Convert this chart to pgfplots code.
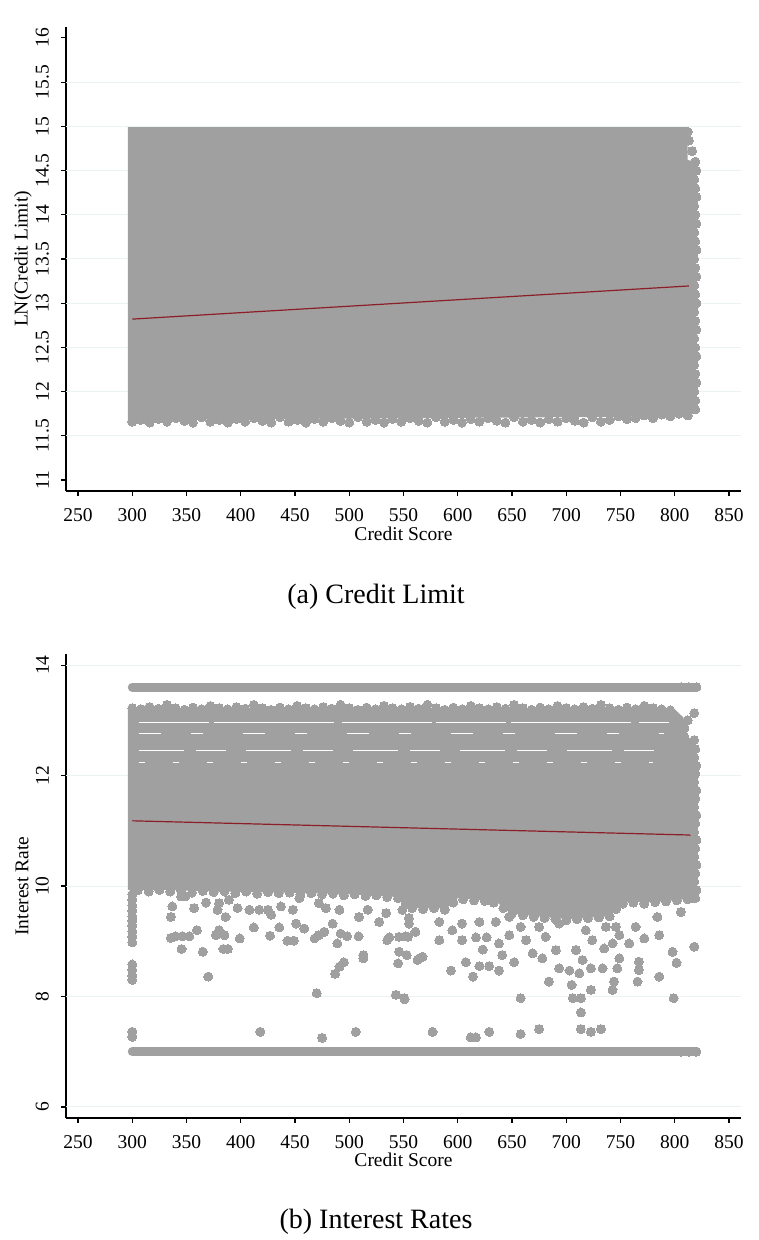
\documentclass[border=0pt]{standalone}
\usepackage{fontspec}
\setmainfont{Liberation Serif}
\usepackage{pgfplots}
\pgfplotsset{compat=1.18}
\definecolor{mg}{RGB}{160,160,160}
\definecolor{gridc}{RGB}{234,242,243}
\definecolor{fitc}{RGB}{140,30,40}
\pgfplotsset{
 stata/.style={
  scale only axis, width=675pt, height=464pt,
  xmin=238.9, xmax=861.1,
  axis x line*=bottom, axis y line*=left,
  axis line style={line width=1.1pt, black, -},
  tick align=outside, major tick length=5pt,
  every tick/.style={black, line width=1.1pt},
  xtick={250,300,350,400,450,500,550,600,650,700,750,800,850},
  ticklabel style={font=\fontsize{19.5}{22}\selectfont},
  label style={font=\fontsize{19.5}{22}\selectfont},
  /pgf/number format/assume math mode=true,
  yticklabel style={rotate=90, anchor=south, inner ysep=12pt},
  xticklabel style={yshift=-9pt},
  extra tick style={major tick length=0pt, grid=major},
  grid style={gridc, line width=1pt},
  xlabel={Credit Score},
 },
 pts/.style={only marks, mg, mark=*, mark size=4.5pt, mark options={solid, fill=mg, draw=mg, line width=0pt}},
 blob/.style={fill=mg, draw=none, mark=none},
}
\begin{document}
\begin{tikzpicture}[x=1pt,y=1pt]
\useasboundingbox (0,0) rectangle (759,1240);
% ---------------- (a) Credit Limit ----------------
\begin{axis}[stata, at={(66pt,749pt)}, anchor=south west,
  ymin=10.876, ymax=16.124,
  ytick={11,11.5,12,12.5,13,13.5,14,14.5,15,15.5,16},
  extra y ticks={11.5,12,12.5,13,13.5,14,14.5,15,15.5}, extra y tick labels={},
  ylabel={LN(Credit Limit)},
  ylabel style={at={(axis description cs:-0.0637,0.5)}, anchor=center},
  xlabel style={at={(axis description cs:0.5,-0.0927)}, anchor=center}]
\addplot[blob] coordinates {(296,11.64) (296,14.99) (812,14.99) (812,14.62) (819,14.60) (819,11.76) (810,11.72) (300,11.68)};
\addplot[pts] coordinates {
(300,11.66)(308,11.68)(316,11.65)(324,11.69)(332,11.66)(340,11.70)(348,11.67)(356,11.65)(364,11.71)(372,11.66)
(380,11.68)(388,11.65)(396,11.69)(404,11.66)(412,11.70)(420,11.67)(428,11.65)(436,11.71)(444,11.66)(452,11.68)
(460,11.65)(468,11.69)(476,11.66)(484,11.70)(492,11.67)(500,11.65)(508,11.71)(516,11.66)(524,11.68)(532,11.65)
(540,11.69)(548,11.66)(556,11.70)(564,11.67)(572,11.65)(580,11.71)(588,11.66)(596,11.68)(604,11.65)(612,11.69)
(620,11.66)(628,11.70)(636,11.67)(644,11.65)(652,11.71)(660,11.66)(668,11.68)(676,11.65)(684,11.69)(692,11.66)
(700,11.70)(708,11.67)(716,11.65)(724,11.71)(732,11.66)(740,11.68)(748,11.72)(756,11.69)(764,11.70)(772,11.73)
(780,11.70)(788,11.74)(796,11.72)(804,11.75)(812,11.73)(819,11.80)
(819,11.90)(818,12.00)(820,12.10)(819,12.20)(818,12.30)(820,12.40)(819,12.50)(818,12.60)(820,12.70)(819,12.80)
(818,12.90)(820,13.00)(819,13.10)(818,13.20)(820,13.30)(819,13.40)(818,13.50)(820,13.60)(819,13.70)(818,13.80)
(820,13.90)(819,14.00)(818,14.10)(820,14.20)(819,14.30)(818,14.40)(820,14.50)(819,14.60)
(816,14.72)(813,14.84)(812,14.94)(806,14.94)
};
\addplot[fitc, line width=1.2pt, mark=none] coordinates {(300,12.82) (820,13.20)};
\end{axis}
\node[font=\fontsize{28}{32}\selectfont] at (376,643) {(a) Credit Limit};
% ---------------- (b) Interest Rates ----------------
\begin{axis}[stata, at={(66pt,122pt)}, anchor=south west,
  ymin=5.8, ymax=14.2,
  ytick={6,8,10,12,14},
  extra y ticks={6,8,10,12,14}, extra y tick labels={},
  ylabel={Interest Rate},
  ylabel style={at={(axis description cs:-0.0652,0.5)}, anchor=center},
  xlabel style={at={(axis description cs:0.5,-0.0905)}, anchor=center}]
% bands
\addplot[mg, line width=9pt, line cap=round, mark=none] coordinates {(300,13.6) (820,13.6)};
\addplot[mg, line width=9pt, line cap=round, mark=none] coordinates {(300,7.0) (820,7.0)};
% dense region
\addplot[blob] coordinates {(296,9.93) (296,13.2) (800,13.2) (808,13.05) (812,12.7) (819,12.6) (819,9.78)
 (790,9.72) (750,9.70) (740,9.45) (700,9.40) (650,9.50) (635,9.72) (600,9.78) (590,9.60) (560,9.60)
 (545,9.80) (500,9.85) (440,9.88) (380,9.90) (330,9.93)};
% white gaps in dense region
\addplot[white, line width=0.8pt, mark=none, dash pattern=on 70pt off 5pt on 120pt off 8pt on 90pt off 4pt] coordinates {(306,12.97) (795,12.97)};
\addplot[white, line width=0.8pt, mark=none, dash pattern=on 22pt off 30pt on 12pt off 40pt] coordinates {(306,12.77) (790,12.77)};
\addplot[white, line width=0.8pt, mark=none, dash pattern=on 45pt off 12pt on 30pt off 20pt] coordinates {(306,12.46) (790,12.46)};
\addplot[white, line width=0.8pt, mark=none, dash pattern=on 6pt off 28pt] coordinates {(306,12.24) (780,12.24)};
% edge and scattered points
\addplot[pts] coordinates {
(300,13.22)(308,13.20)(316,13.24)(324,13.21)(332,13.28)(340,13.22)(348,13.19)(356,13.23)(364,13.20)(372,13.26)
(380,13.22)(388,13.20)(396,13.24)(404,13.21)(412,13.28)(420,13.22)(428,13.19)(436,13.23)(444,13.20)(452,13.26)
(460,13.22)(468,13.20)(476,13.24)(484,13.21)(492,13.28)(500,13.22)(508,13.19)(516,13.23)(524,13.20)(532,13.26)
(540,13.22)(548,13.20)(556,13.24)(564,13.21)(572,13.28)(580,13.22)(588,13.19)(596,13.23)(604,13.20)(612,13.26)
(620,13.22)(628,13.20)(636,13.24)(644,13.21)(652,13.28)(660,13.22)(668,13.19)(676,13.23)(684,13.20)(692,13.26)
(700,13.22)(708,13.20)(716,13.24)(724,13.21)(732,13.28)(740,13.22)(748,13.19)(756,13.23)(764,13.20)(772,13.26)
(780,13.22)(788,13.20)(796,13.18)
(818,13.13)(809,12.86)(809,12.70)(812,13.00)(818,12.64)
(819,12.48)(818,12.33)(820,12.18)(819,12.03)(818,11.88)(820,11.73)(819,11.58)(818,11.43)(820,11.28)(819,11.13)
(818,10.98)(820,10.83)(819,10.68)(818,10.53)(820,10.38)(819,10.23)(818,10.08)(820,9.93)
(806,13.6)(813,13.6)(820,13.6)(806,7.0)(813,7.0)(820,7.0)
(305,9.92)(315,9.90)(325,9.93)(335,9.90)(345,9.92)(355,9.88)(365,9.91)(375,9.89)(385,9.90)(395,9.87)
(405,9.90)(415,9.86)(425,9.89)(435,9.87)(445,9.88)(455,9.84)(465,9.87)(475,9.85)(485,9.86)(495,9.83)
(505,9.85)(515,9.82)(525,9.83)(535,9.80)(545,9.78)(552,9.68)(558,9.60)(568,9.58)(578,9.60)(588,9.57)
(596,9.70)(605,9.76)(615,9.74)(625,9.73)(633,9.70)(642,9.60)(650,9.50)(660,9.47)(670,9.44)(680,9.42)
(690,9.40)(700,9.38)(710,9.40)(720,9.42)(730,9.43)(740,9.45)(746,9.58)(752,9.68)(762,9.70)(772,9.68)
(782,9.71)(792,9.72)(802,9.74)(812,9.76)(819,9.78)
(300,9.85)(300,9.75)(300,9.65)(300,9.55)(300,9.45)(300,9.37)(300,9.28)(300,9.18)(300,9.08)(300,8.98)
(300,8.58)(300,8.48)(300,8.38)(300,8.30)(300,7.36)(300,7.27)
(335.6,9.44)(337,9.63)(345,9.81)(349,9.81)(357,9.60)(368,9.70)(378.6,9.57)(386,9.44)(380,9.69)(389,9.75)
(397,9.60)(408,9.57)(417,9.57)(425,9.57)(428,9.48)(437,9.63)(448,9.57)(454,9.78)(465,9.87)(472,9.69)
(478.5,9.60)(484.6,9.32)(491,9.57)(509,9.44)(517,9.57)(527.6,9.35)(534,9.51)(549,9.57)(555,9.42)
(335.6,9.06)(340,9.09)(346,9.09)(352.5,9.09)(359.6,9.20)(377,9.11)(380,9.20)(385,9.11)(399,9.05)(412,9.25)
(427,9.10)(435.5,9.25)(443,9.01)(449,9.01)(451,9.32)(458.5,9.23)(468,9.05)(472,9.11)(477,9.17)(489,8.96)
(492,9.14)(498,9.09)(508.6,9.09)(535,9.02)(537,9.07)(546,9.08)(554,9.08)(561,9.17)
(345.5,8.86)(365,8.81)(384,8.86)(388,8.86)(370,8.36)(487,8.41)(491,8.54)(495,8.62)(513,8.75)(513,8.69)
(545,8.60)(546,8.81)(553,8.75)(563,8.66)(470,8.06)(543,8.03)(551,7.95)(418,7.36)(475,7.25)(506,7.36)
(550.7,7.97)(576.8,7.36)(612,7.26)(616.8,7.26)(629,7.36)(658,7.97)(658,7.32)(675,7.41)(713.5,7.41)(722.7,7.36)
(732,7.41)(713.5,7.71)(706,7.97)(713.5,7.97)(799,7.97)
(593.7,8.47)(607.5,8.62)(614,8.36)(620,8.55)(629,8.55)(638,8.47)(652,8.62)(684,8.27)(693.5,8.51)(703,8.47)
(705,8.21)(712,8.42)(722.7,8.12)(722.7,8.51)(733.5,8.51)(742.7,8.12)(744,8.27)(747,8.51)(749,8.69)(765.7,8.27)
(767,8.48)(767,8.63)(785.7,8.36)(801.7,8.61)(798,8.81)(818,8.90)
(552,9.09)(564.5,8.69)(567.6,8.72)(583,9.02)(604,9.02)(616.8,9.07)(623,8.85)(626.6,9.07)(638,8.96)(641,8.75)
(647.5,9.11)(658,9.26)(663,9.02)(669,8.78)(678,8.69)(681,9.08)(690.5,8.84)(709,8.84)(715,8.66)(724,9.02)
(735,8.87)(742.7,8.96)(749,9.11)(758,8.96)(764,9.26)(772,9.05)(785.7,9.11)(805.7,9.53)(818,9.78)(784,9.44)
(555,9.32)(583,9.35)(595,9.20)(604,9.32)(620,9.35)(635,9.35)(647.5,9.44)(675,9.26)(693.5,9.32)(718,9.20)
(736.6,9.26)(745.8,9.26)
};
\addplot[fitc, line width=1.2pt, mark=none] coordinates {(300,11.18) (820,10.92)};
\end{axis}
\node[font=\fontsize{28}{32}\selectfont] at (376,18) {(b) Interest Rates};
\end{tikzpicture}
\end{document}
